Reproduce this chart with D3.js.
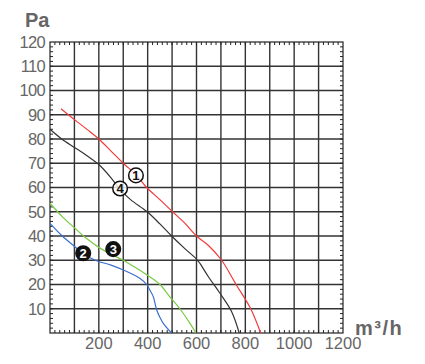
<!DOCTYPE html>
<html>
<head>
<meta charset="utf-8">
<script src="https://cdn.jsdelivr.net/npm/d3@7"></script>
<style>
  body { margin: 0; background: #fff; }
  svg { display: block; font-family: "Liberation Sans", Arial, sans-serif; }
</style>
</head>
<body>
<svg id="chart" width="425" height="364"></svg>
<script>
// fan curves (airflow m3/h, pressure Pa)
var curve1X = [45, 100, 164, 200, 250, 300, 350, 396, 450, 502, 550, 600, 650, 703, 762, 822, 863];
var curve1Y = [92.5, 88, 83, 80, 75, 70, 65.5, 60, 55, 50, 45.5, 40, 36, 30, 20, 10, 0];

var curve4X = [0, 48, 102, 150, 200, 250, 284, 330, 398, 450, 498, 550, 600, 614, 650, 696, 744, 775];
var curve4Y = [84, 80, 76.4, 73.2, 69.5, 64, 59.5, 55, 50, 45, 40, 35, 30.5, 28.7, 23, 16.4, 8.8, 0];

var curve3X = [0, 50, 102, 150, 205, 250, 300, 350, 396, 450, 490, 532, 570, 598];
var curve3Y = [53.5, 48, 43.2, 39, 35, 32.5, 30, 27, 24, 20, 15, 10, 4.5, 0];

var curve2X = [0, 50, 102, 137, 191, 250, 300, 369, 396, 410, 423, 437, 450, 464, 498];
var curve2Y = [45.2, 40, 35.6, 32.6, 29.8, 28, 26, 22.5, 20, 17.5, 15, 9.5, 6.5, 4, 0];

var xTicks = [200, 400, 600, 800, 1000, 1200];
var yTicks = [10, 20, 30, 40, 50, 60, 70, 80, 90, 100, 110, 120];

// curve labels: [number, x, y, filled]
var markers = [
  ["1", 352, 65, false],
  ["4", 287, 59.6, false],
  ["2", 136, 32.9, true],
  ["3", 259, 34.6, true]
];

var pLeft = 50, pRight = 343, pTop = 42, pBottom = 333;
var svg = d3.select("#chart");

var x = d3.scaleLinear().domain([0, 1200]).range([pLeft, pRight]);
var y = d3.scaleLinear().domain([0, 120]).range([pBottom, pTop]);

// grid
svg.append("g").selectAll("line")
  .data(d3.range(100, 1200, 100))
  .join("line")
  .attr("x1", d => x(d)).attr("x2", d => x(d))
  .attr("y1", pTop).attr("y2", pBottom)
  .attr("stroke", "#333").attr("stroke-width", 1.4);
svg.append("g").selectAll("line")
  .data(d3.range(10, 120, 10))
  .join("line")
  .attr("y1", d => y(d)).attr("y2", d => y(d))
  .attr("x1", pLeft).attr("x2", pRight)
  .attr("stroke", "#333").attr("stroke-width", 1.4);

// minor ticks, pointing inward on all sides
var tickLen = 3;
var minorX = d3.range(20, 1200, 20);
var minorY = d3.range(2, 120, 2);
var ticks = svg.append("g").attr("stroke", "#222").attr("stroke-width", 1);
ticks.append("g").selectAll("line").data(minorX).join("line")
  .attr("x1", d => x(d)).attr("x2", d => x(d))
  .attr("y1", pBottom).attr("y2", pBottom - tickLen);
ticks.append("g").selectAll("line").data(minorX).join("line")
  .attr("x1", d => x(d)).attr("x2", d => x(d))
  .attr("y1", pTop).attr("y2", pTop + tickLen);
ticks.append("g").selectAll("line").data(minorY).join("line")
  .attr("y1", d => y(d)).attr("y2", d => y(d))
  .attr("x1", pLeft).attr("x2", pLeft + tickLen);
ticks.append("g").selectAll("line").data(minorY).join("line")
  .attr("y1", d => y(d)).attr("y2", d => y(d))
  .attr("x1", pRight).attr("x2", pRight - tickLen);

// frame
svg.append("rect")
  .attr("x", pLeft).attr("y", pTop)
  .attr("width", pRight - pLeft).attr("height", pBottom - pTop)
  .attr("fill", "none").attr("stroke", "#222").attr("stroke-width", 1.2);

// tick labels
svg.append("g").selectAll("text")
  .data(yTicks).join("text")
  .attr("x", pLeft - 5).attr("y", d => y(d))
  .attr("dy", "0.36em")
  .attr("text-anchor", "end")
  .attr("font-size", 16.5).attr("fill", "#666")
  .attr("letter-spacing", -0.7)
  .text(d => d);
svg.append("g").selectAll("text")
  .data(xTicks).join("text")
  .attr("x", d => x(d)).attr("y", 349)
  .attr("text-anchor", "middle")
  .attr("font-size", 16.5).attr("fill", "#666")
  .text(d => d);

svg.append("text").attr("x", 25).attr("y", 27)
  .attr("font-size", 20).attr("font-weight", "bold").attr("fill", "#666")
  .text("Pa");
svg.append("text").attr("x", 355).attr("y", 335)
  .attr("font-size", 20).attr("font-weight", "bold").attr("fill", "#666")
  .attr("letter-spacing", 1.5)
  .text("m³/h");

// curves
var line = d3.line().x(d => x(d[0])).y(d => y(d[1])).curve(d3.curveCatmullRom.alpha(0.5));
var series = [
  [curve1X, curve1Y, "#f23a3a"],
  [curve4X, curve4Y, "#333"],
  [curve3X, curve3Y, "#7ac943"],
  [curve2X, curve2Y, "#3a6fcf"]
];
series.forEach(function(s) {
  svg.append("path")
    .datum(d3.zip(s[0], s[1]))
    .attr("d", line)
    .attr("fill", "none")
    .attr("stroke", s[2])
    .attr("stroke-width", 1.2);
});

// numbered markers
var mk = svg.append("g").selectAll("g").data(markers).join("g")
  .attr("transform", d => "translate(" + x(d[1]) + "," + y(d[2]) + ")");
mk.append("circle").attr("r", 7.3)
  .attr("fill", d => d[3] ? "#111" : "#fff")
  .attr("fill-opacity", d => d[3] ? 1 : 0.8)
  .attr("stroke", "#111").attr("stroke-width", 1.5);
mk.append("text")
  .attr("text-anchor", "middle").attr("dy", "0.36em")
  .attr("font-size", 13).attr("font-weight", "bold")
  .attr("fill", d => d[3] ? "#fff" : "#111")
  .text(d => d[0]);
</script>
</body>
</html>
